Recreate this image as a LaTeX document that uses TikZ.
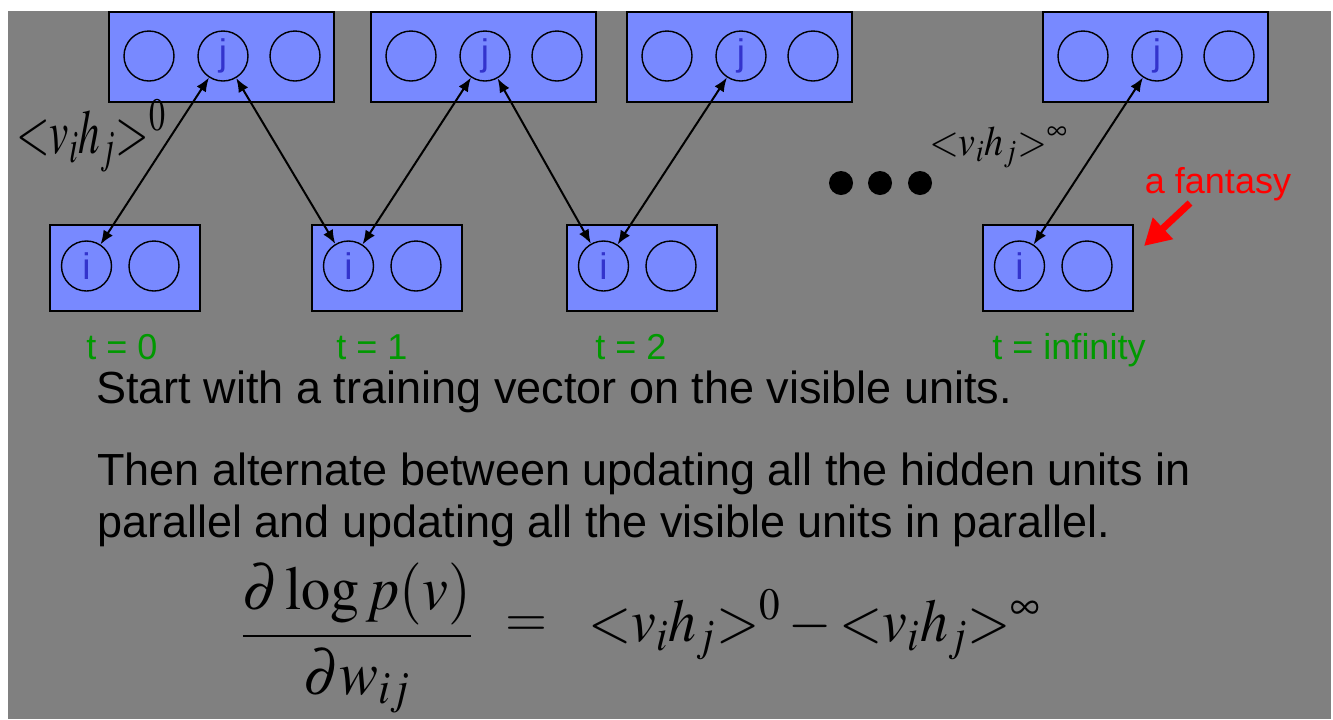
\documentclass[tikz,border=0pt]{standalone}
\usepackage{mathptmx}
\usepackage[no-math]{fontspec}
\setmainfont{Liberation Sans}
\usetikzlibrary{arrows.meta}

\definecolor{slidegray}{RGB}{128,128,128}
\definecolor{layerblue}{RGB}{120,137,255}
\definecolor{unitlabel}{RGB}{51,51,204}
\definecolor{timegreen}{RGB}{0,153,0}

\newcommand\vhpair[1]{{<}v_i h_j{>}^{#1}}

\tikzset{
  layer/.style={draw=black, line width=1pt, fill=layerblue, inner sep=0pt},
  toplayer/.style={layer, minimum width=112.5pt, minimum height=45pt},
  botlayer/.style={layer, minimum width=75pt, minimum height=43pt},
  unit/.style={circle, draw=black, line width=0.7pt, minimum size=25pt, inner sep=0pt,
    text=unitlabel, font=\fontsize{18.5}{18}\selectfont},
  link/.style={arrows={Latex[length=7pt,width=5.5pt]-Latex[length=7pt,width=5.5pt]}, line width=1pt},
  tlabel/.style={text=timegreen, font=\fontsize{18}{20}\selectfont, anchor=base, inner sep=0pt},
  body/.style={anchor=base west, font=\fontsize{22.5}{26}\selectfont, inner sep=0pt},
  eqn/.style={font=\fontsize{27}{30}\selectfont, inner sep=0pt},
  dot/.style={circle, fill=black, minimum size=12pt, inner sep=0pt},
  fantasy/.style={red, line width=3.5pt, arrows={-Triangle[length=13pt,width=14pt]}},
}

\begin{document}
\begin{tikzpicture}[x=0.5pt, y=-0.5pt]
  \fill[white] (0,0) rectangle (1333,719);
  \fill[slidegray] (8,11) rectangle (1331,719);
  \useasboundingbox (0,0) rectangle (1333,719);

  % hidden layers
  \node[toplayer] (hid0) at (221.5,57) {};
  \node[toplayer] (hid1) at (483.5,57) {};
  \node[toplayer] (hid2) at (739.5,57) {};
  \node[toplayer] (hid3) at (1155.5,57) {};

  \node[unit] (h0a) at (149,56) {};
  \node[unit] (j0) at (223,56) {j};
  \node[unit] (h0c) at (295,56) {};
  \node[unit] (h1a) at (411,56) {};
  \node[unit] (j1) at (485,56) {j};
  \node[unit] (h1c) at (557,56) {};
  \node[unit] (h2a) at (667,56) {};
  \node[unit] (j2) at (741,56) {j};
  \node[unit] (h2c) at (813,56) {};
  \node[unit] (h3a) at (1083,56) {};
  \node[unit] (j3) at (1157,56) {j};
  \node[unit] (h3c) at (1229,56) {};

  % visible layers
  \node[botlayer] (vis0) at (125,268) {};
  \node[botlayer] (vis1) at (387,268) {};
  \node[botlayer] (vis2) at (642,268) {};
  \node[botlayer] (vis3) at (1058,268) {};

  \node[unit] (i0) at (86.5,266) {i};
  \node[unit] (v0b) at (154,266) {};
  \node[unit] (i1) at (348.5,266) {i};
  \node[unit] (v1b) at (416,266) {};
  \node[unit] (i2) at (603.5,266) {i};
  \node[unit] (v2b) at (671,266) {};
  \node[unit] (i3) at (1019.5,266) {i};
  \node[unit] (v3b) at (1087,266) {};

  \draw[link] (i0) -- (j0);
  \draw[link] (j0) -- (i1);
  \draw[link] (i1) -- (j1);
  \draw[link] (j1) -- (i2);
  \draw[link] (i2) -- (j2);
  \draw[link] (i3) -- (j3);

  \node[dot] (dot1) at (841,183) {};
  \node[dot] (dot2) at (880,183) {};
  \node[dot] (dot3) at (920,183) {};

  \node[eqn, font=\fontsize{24}{28}\selectfont, anchor=base west] (corr0) at (16,153)
    {\scalebox{0.9}[1.3]{$\vhpair{0}$}};
  \node[eqn, font=\fontsize{19}{22}\selectfont, anchor=base west] (corrinf) at (929,155)
    {\scalebox{1}[1.1]{$\vhpair{\infty}$}};

  \node[text=red, font=\fontsize{18}{20}\selectfont, anchor=base] (fantlbl) at (1218,193) {a fantasy};
  \coordinate (fanttail) at (1190,203);
  \coordinate (fanttip) at (1144,246);
  \draw[fantasy] (fanttail) -- (fanttip);

  \node[tlabel] (t0) at (122,359) {t = 0};
  \node[tlabel] (t1) at (372,359) {t = 1};
  \node[tlabel] (t2) at (631,359) {t = 2};
  \node[tlabel] (tinf) at (1069,359) {t = infinity};

  \node[body] (line1) at (96,403) {Start with a training vector on the visible units.};
  \node[body] (line2) at (97,485) {Then alternate between updating all the hidden units in};
  \node[body] (line3) at (97,537) {parallel and updating all the visible units in parallel.};

  \node[eqn] (frac) at (357,638) {\scalebox{1.08}[1.15]{$\displaystyle\frac{\partial\log p(v)}{\partial w_{ij}}$}};
  \node[eqn] (equals) at (526,627) {$=$};
  \node[eqn, anchor=base west] (rhs) at (588,641) {\scalebox{1.03}[1.12]{$\vhpair{0} - \vhpair{\infty}$}};
\end{tikzpicture}
\end{document}
